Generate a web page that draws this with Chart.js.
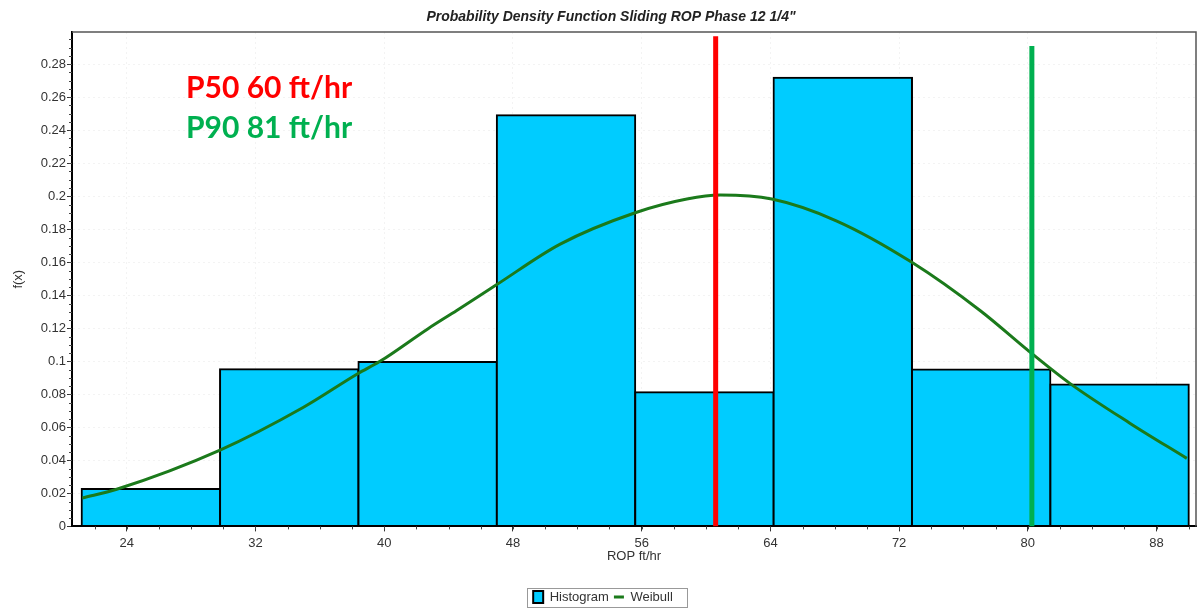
<!DOCTYPE html>
<html lang="en">
<head>
<meta charset="UTF-8">
<title>Probability Density Function Sliding ROP Phase 12 1/4"</title>
<script src="https://cdn.jsdelivr.net/npm/chart.js"></script>
<style>
  html, body { margin: 0; padding: 0; background: #fff; }
</style>
</head>
<body>
<canvas id="pdfChart" width="1202" height="609"></canvas>
<script>
// histogram bins: bin centres (ft/hr) and density
const binCenters = [25.5, 34.1, 42.7, 51.3, 59.9, 68.5, 77.1, 85.7];
const binDensity = [0.0227, 0.0952, 0.0996, 0.249, 0.0813, 0.2718, 0.095, 0.0859];

// fitted Weibull curve
const weibullX = [21.24, 23.38, 29.8, 34.96, 38.38, 39.74, 42.73, 44.51, 47.0, 50.94, 55.6, 58.81, 60.88, 64.09, 68.13, 72.79, 77.03, 80.25, 82.63, 86.36, 89.88];
const weibullY = [0.0172, 0.0225, 0.0462, 0.072, 0.0926, 0.1, 0.1198, 0.1308, 0.1465, 0.171, 0.19, 0.1983, 0.2007, 0.1983, 0.185, 0.16, 0.1308, 0.1047, 0.0865, 0.0624, 0.0412];

// P50 / P90 markers: x position and top of the line
const p50Line = [60.6, 0.297];
const p90Line = [80.25, 0.291];

const xTickValues = [24, 32, 40, 48, 56, 64, 72, 80, 88];
const xRange = [20.6, 90.45];
const yRange = [0, 0.2995];

const chartTitle = 'Probability Density Function Sliding ROP Phase 12 1/4"';
const txt = '#333';
const baseFont = { family: 'Arial, "Liberation Sans", sans-serif', size: 13 };

// bars are one bin wide, the tick step is 8
const binWidth = binCenters[1] - binCenters[0];
const barFill = binWidth / 8;

// title, minor ticks, plot frame, P50/P90 text and legend box
const extras = {
  id: 'extras',
  afterDraw(chart) {
    const { ctx, chartArea: a, scales: { x, y } } = chart;
    ctx.save();

    ctx.font = 'italic bold 14px Arial, "Liberation Sans", sans-serif';
    ctx.fillStyle = '#222';
    ctx.textAlign = 'center';
    ctx.textBaseline = 'middle';
    ctx.fillText(chartTitle, 611, 17);

    ctx.strokeStyle = '#555';
    ctx.lineWidth = 1.5;
    ctx.beginPath();
    ctx.moveTo(a.left, a.top);
    ctx.lineTo(a.right, a.top);
    ctx.lineTo(a.right, a.bottom);
    ctx.stroke();

    ctx.strokeStyle = '#444';
    ctx.lineWidth = 1;
    for (let v = 0.005; v < yRange[1]; v += 0.005) {
      const py = Math.round(y.getPixelForValue(v)) + 0.5;
      ctx.beginPath();
      ctx.moveTo(a.left - 3, py);
      ctx.lineTo(a.left, py);
      ctx.stroke();
    }
    for (let v = 22; v < xRange[1]; v += 2) {
      const px = Math.round(x.getPixelForValue(v)) + 0.5;
      ctx.beginPath();
      ctx.moveTo(px, a.bottom);
      ctx.lineTo(px, a.bottom + 3);
      ctx.stroke();
    }

    ctx.font = 'bold 30px Lato, "Open Sans", sans-serif';
    ctx.textAlign = 'left';
    ctx.textBaseline = 'alphabetic';
    ctx.fillStyle = '#ff0000';
    ctx.fillText('P50 60 ft/hr', 186, 98);
    ctx.fillStyle = '#00b050';
    ctx.fillText('P90 81 ft/hr', 186, 138);

    const boxes = chart.legend.legendHitBoxes;
    if (boxes && boxes.length) {
      const l = Math.min(...boxes.map(b => b.left)) - 6;
      const r = Math.max(...boxes.map(b => b.left + b.width)) + 14;
      const t = Math.min(...boxes.map(b => b.top)) - 3;
      const btm = Math.max(...boxes.map(b => b.top + b.height)) + 3;
      ctx.strokeStyle = '#999';
      ctx.lineWidth = 1;
      ctx.strokeRect(Math.round(l) + 0.5, Math.round(t) + 0.5, Math.round(r - l), Math.round(btm - t));
    }
    ctx.restore();
  }
};

new Chart(document.getElementById('pdfChart'), {
  type: 'bar',
  data: {
    datasets: [
      {
        label: 'Histogram',
        data: binCenters.map((c, i) => ({ x: c, y: binDensity[i] })),
        backgroundColor: '#00ccff',
        borderColor: '#000',
        borderWidth: 2,
        borderSkipped: false,
        inflateAmount: 1,
        barPercentage: barFill,
        categoryPercentage: 1,
        pointStyle: 'rect',
        order: 2
      },
      {
        type: 'line',
        label: 'Weibull',
        data: weibullX.map((v, i) => ({ x: v, y: weibullY[i] })),
        borderColor: '#1b7a1b',
        backgroundColor: '#1b7a1b',
        borderWidth: 3,
        cubicInterpolationMode: 'monotone',
        pointRadius: 0,
        pointBorderWidth: 3,
        pointStyle: 'line',
        order: 1
      },
      {
        type: 'line',
        label: 'P50',
        data: [{ x: p50Line[0], y: 0 }, { x: p50Line[0], y: p50Line[1] }],
        borderColor: '#ff0000',
        borderWidth: 5,
        pointRadius: 0,
        order: 0
      },
      {
        type: 'line',
        label: 'P90',
        data: [{ x: p90Line[0], y: 0 }, { x: p90Line[0], y: p90Line[1] }],
        borderColor: '#00b050',
        borderWidth: 5,
        pointRadius: 0,
        order: 0
      }
    ]
  },
  options: {
    responsive: false,
    animation: false,
    layout: { padding: { left: 10, right: 6, top: 32, bottom: -4.5 } },
    plugins: {
      title: { display: false },
      legend: {
        position: 'bottom',
        labels: {
          color: txt,
          font: baseFont,
          usePointStyle: true,
          boxHeight: 12,
          pointStyleWidth: 10,
          padding: 5,
          filter: item => item.datasetIndex < 2,
          sort: (a, b) => a.datasetIndex - b.datasetIndex
        }
      },
      tooltip: { enabled: false }
    },
    scales: {
      x: {
        type: 'linear',
        min: xRange[0],
        max: xRange[1],
        offset: false,
        afterBuildTicks: s => { s.ticks = xTickValues.map(v => ({ value: v })); },
        afterFit: s => { s.height = 59.1; },
        ticks: { color: txt, font: baseFont, padding: 4, maxRotation: 0 },
        grid: { offset: false, color: '#f3f3f3', tickColor: '#333', tickLength: 5 },
        border: { color: '#000', width: 2, dash: [2, 3] },
        title: { display: true, text: 'ROP ft/hr', color: txt, font: baseFont, padding: { top: 0, bottom: 21 } }
      },
      y: {
        min: yRange[0],
        max: yRange[1],
        afterFit: s => { s.width = 62; },
        ticks: {
          stepSize: 0.02,
          includeBounds: false,
          color: txt,
          font: baseFont,
          padding: 1,
          callback: v => String(Number(v.toFixed(2)))
        },
        grid: { color: '#f3f3f3', tickColor: '#333', tickLength: 5 },
        border: { color: '#000', width: 2, dash: [2, 3] },
        title: { display: true, text: 'f(x)', color: txt, font: baseFont, padding: { top: 1, bottom: 0 } }
      }
    }
  },
  plugins: [extras]
});
</script>
</body>
</html>
